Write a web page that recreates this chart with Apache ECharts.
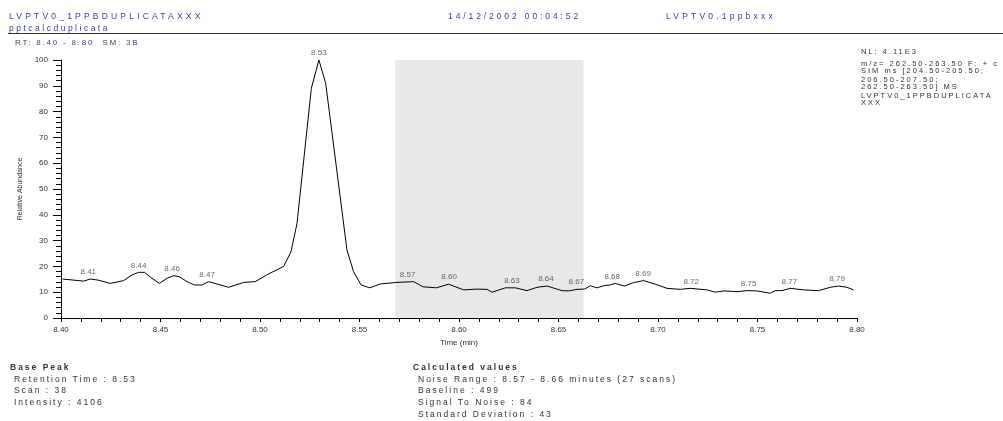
<!DOCTYPE html>
<html>
<head>
<meta charset="UTF-8">
<title>LVPTV0_1PPBDUPLICATAXXX</title>
<script src="https://cdn.jsdelivr.net/npm/echarts@6/dist/echarts.min.js"></script>
<style>
  html,body{margin:0;padding:0;background:#fff;}
  #wrap{position:relative;width:1003px;height:421px;overflow:hidden;font-family:"Liberation Sans",Arial,sans-serif;}
  #main{position:absolute;left:0;top:0;width:1003px;height:421px;}
  .t{position:absolute;white-space:nowrap;line-height:1;pointer-events:none;}
  .hd{font-size:8.5px;letter-spacing:3.2px;color:#3c3cb4;}
  .bl{color:#3c3cb4;}
  .gr{color:#444;}
  .ann{font-size:7.5px;letter-spacing:2px;color:#333;left:861px;}
  .ft{font-size:8.5px;letter-spacing:2px;color:#333;}
  .ft b{font-weight:bold;}
  #rule{position:absolute;left:8px;right:0;top:33px;height:1px;background:#333;}
</style>
</head>
<body>
<div id="wrap">
  <div id="main"></div>
  <!-- header -->
  <div class="t hd" style="left:9px;top:12px;">LVPTV0_1PPBDUPLICATAXXX</div>
  <div class="t hd" style="left:9px;top:24px;letter-spacing:2.5px;">pptcalcduplicata</div>
  <div class="t hd" style="left:448px;top:12px;letter-spacing:2.9px;">14/12/2002 00:04:52</div>
  <div class="t hd" style="left:666px;top:12px;">LVPTV0.1ppbxxx</div>
  <div id="rule"></div>
  <div class="t" style="left:15px;top:39px;font-size:8px;letter-spacing:1.8px;"><span class="gr">RT: </span><span class="bl">8.40 - 8.80</span><span class="gr">&nbsp;&nbsp;SM: </span><span class="bl">3B</span></div>
  <!-- right annotation -->
  <div class="t ann" style="top:48px;">NL: 4.11E3</div>
  <div class="t ann" style="top:60px;">m/z= 262.50-263.50 F: + c</div>
  <div class="t ann" style="top:67px;">SIM ms [204.50-205.50;</div>
  <div class="t ann" style="top:76px;">206.50-207.50;</div>
  <div class="t ann" style="top:83px;">262.50-263.50] MS</div>
  <div class="t ann" style="top:92px;">LVPTV0_1PPBDUPLICATA</div>
  <div class="t ann" style="top:99px;">XXX</div>
  <!-- footer -->
  <div class="t ft" style="left:10px;top:363px;"><b>Base Peak</b></div>
  <div class="t ft" style="left:14px;top:375px;">Retention Time : 8.53</div>
  <div class="t ft" style="left:14px;top:386px;">Scan : 38</div>
  <div class="t ft" style="left:14px;top:398px;">Intensity : 4106</div>
  <div class="t ft" style="left:413px;top:363px;"><b>Calculated values</b></div>
  <div class="t ft" style="left:418px;top:375px;">Noise Range : 8.57 - 8.66 minutes (27 scans)</div>
  <div class="t ft" style="left:418px;top:386px;">Baseline : 499</div>
  <div class="t ft" style="left:418px;top:398px;">Signal To Noise : 84</div>
  <div class="t ft" style="left:418px;top:410px;">Standard Deviation : 43</div>
</div>
<script>
// retention times (min) and relative abundance (%)
var times = [8.4008,8.4114,8.4147,8.4186,8.4248,8.4315,8.4357,8.4390,8.4420,8.4457,
  8.4494,8.4533,8.4566,8.4594,8.4633,8.4671,8.4709,8.4742,8.4842,8.4918,
  8.4976,8.5043,8.5119,8.5156,8.5186,8.5258,8.5296,8.5330,8.5437,8.5470,
  8.5508,8.5551,8.5605,8.5688,8.5772,8.5819,8.5886,8.5948,8.6023,8.6090,
  8.6141,8.6166,8.6233,8.6283,8.6342,8.6392,8.6442,8.6518,8.6551,8.6593,
  8.6630,8.6660,8.6693,8.6727,8.6760,8.6785,8.6831,8.6877,8.6928,8.6986,
  8.7045,8.7112,8.7162,8.7246,8.7288,8.7330,8.7397,8.7447,8.7497,8.7564,
  8.7589,8.7623,8.7665,8.7732,8.7807,8.7866,8.7908,8.7950,8.7983];
var abundance = [15.1,14.3,15.1,14.7,13.4,14.5,16.7,17.7,17.7,15.4,
  13.4,15.4,16.4,16.0,14.1,12.8,12.8,14.1,11.9,13.8,
  14.1,17.1,20.0,25.7,36.7,89.0,100,91.0,26.4,18.0,
  12.8,11.7,13.2,13.8,14.1,12.1,11.7,13.1,10.9,11.2,
  11.1,10.0,11.7,11.7,10.6,11.9,12.4,10.6,10.5,11.1,
  11.2,12.5,11.7,12.5,12.8,13.4,12.4,13.7,14.5,13.1,
  11.5,11.1,11.5,10.9,10.0,10.5,10.2,10.6,10.5,9.6,
  10.6,10.6,11.5,10.9,10.6,11.9,12.4,11.9,10.9];

// labelled peaks
var peakTimes = [8.4137,8.4390,8.4558,8.4734,8.5296,8.5742,8.5950,8.6266,8.6437,8.6590,8.6770,8.6925,8.7167,8.7455,8.7660,8.7900];
var peakHeights = [15.1,17.7,16.4,14.1,100,14.1,13.1,11.7,12.4,11.2,13.4,14.5,11.5,10.6,11.5,12.4];
var peakLabels = ['8.41','8.44','8.46','8.47','8.53','8.57','8.60','8.63','8.64','8.67','8.68','8.69','8.72','8.75','8.77','8.79'];

var noiseRange = [8.568, 8.6626];
var xTickLabels = ['8.40','8.45','8.50','8.55','8.60','8.65','8.70','8.75','8.80'];
var yTicks = [0,10,20,30,40,50,60,70,80,90,100];

var trace = times.map(function(t,i){ return [t, abundance[i]]; });
var peaks = peakTimes.map(function(t,i){ return [t, peakHeights[i]]; });

var myChart = echarts.init(document.getElementById('main'));
var option = {
  animation: false,
  textStyle: {fontFamily: 'Liberation Sans, Arial, sans-serif'},
  grid: {left: 61, right: 146, top: 60, bottom: 103},
  xAxis: {
    type: 'value', min: 8.4, max: 8.8, interval: 0.01,
    name: 'Time (min)', nameLocation: 'middle', nameGap: 11,
    nameTextStyle: {fontSize: 8, color: '#333'},
    axisLine: {lineStyle: {color: '#000', width: 1}},
    axisTick: {show: true, length: 4, lineStyle: {color: '#000'}},
    axisLabel: {
      fontSize: 8, color: '#333', margin: 8, showMinLabel: true, showMaxLabel: true,
      formatter: function(v){ var s = v.toFixed(2); return xTickLabels.indexOf(s) >= 0 ? s : ''; }
    },
    splitLine: {show: false}
  },
  yAxis: {
    type: 'value', min: yTicks[0], max: yTicks[yTicks.length-1], interval: 10,
    name: 'Relative Abundance', nameLocation: 'middle', nameGap: 28,
    nameTextStyle: {fontSize: 7, color: '#333'},
    axisLine: {show: true, lineStyle: {color: '#000', width: 1}},
    axisTick: {show: true, length: 8, lineStyle: {color: '#000'}},
    minorTick: {show: true, splitNumber: 5, length: 5, lineStyle: {color: '#000'}},
    axisLabel: {fontSize: 8, color: '#333', margin: 13},
    splitLine: {show: false}
  },
  series: [
    {
      type: 'line', data: trace, showSymbol: false, symbol: 'none',
      lineStyle: {color: '#000', width: 1}, z: 3,
      markArea: {
        silent: true,
        itemStyle: {color: '#e8e8e8'},
        data: [[{xAxis: noiseRange[0]}, {xAxis: noiseRange[1]}]]
      }
    },
    {
      type: 'scatter', data: peaks, symbolSize: 0, z: 4,
      label: {
        show: true, position: 'top', distance: 3, fontSize: 8, color: '#444',
        formatter: function(p){ return peakLabels[p.dataIndex]; }
      }
    }
  ]
};
myChart.setOption(option);
</script>
</body>
</html>
